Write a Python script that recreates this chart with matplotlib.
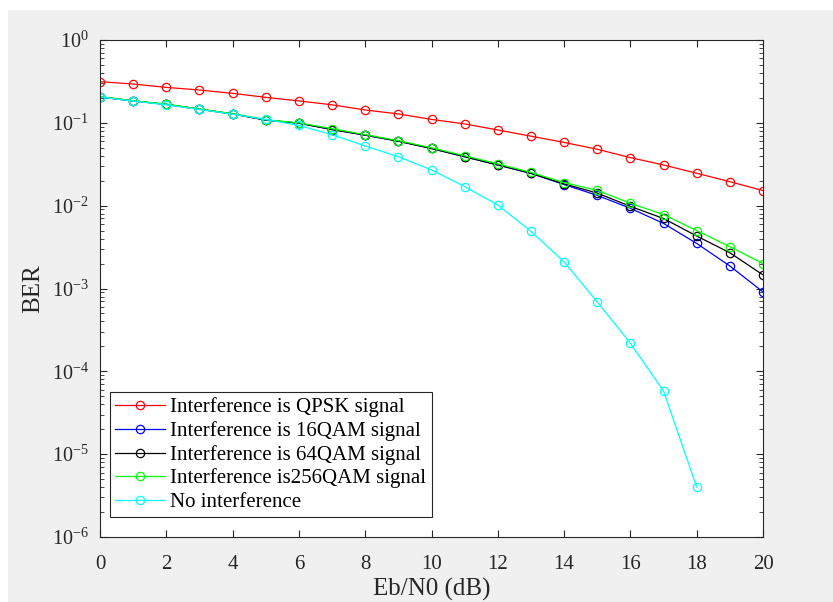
import numpy as np
import matplotlib
matplotlib.use('Agg')
import matplotlib.pyplot as plt
from matplotlib.patches import Rectangle
from matplotlib.ticker import LogLocator, NullFormatter

plt.rcParams['font.family'] = 'Liberation Serif'
plt.rcParams['mathtext.fontset'] = 'custom'
plt.rcParams['mathtext.rm'] = 'Liberation Serif'

# Eb/N0 axis (dB)
ebn0 = np.arange(0, 21)
ebn0_clean = np.arange(0, 19)

ber_qpsk = [0.314, 0.294, 0.268, 0.249, 0.227, 0.203, 0.184, 0.165, 0.143, 0.128,
            0.110, 0.097, 0.082, 0.069, 0.058, 0.048, 0.038, 0.031, 0.0246, 0.0195, 0.0152]
ber_16qam = [0.205, 0.184, 0.167, 0.146, 0.128, 0.108, 0.099, 0.083, 0.071, 0.060,
             0.049, 0.039, 0.031, 0.0245, 0.0180, 0.0133, 0.0093, 0.0061, 0.0035, 0.00187, 0.00091]
ber_64qam = [0.206, 0.184, 0.167, 0.146, 0.128, 0.108, 0.099, 0.083, 0.071, 0.060,
             0.049, 0.039, 0.031, 0.0246, 0.0183, 0.0142, 0.0098, 0.0070, 0.0043, 0.0027, 0.00146]
ber_256qam = [0.207, 0.185, 0.168, 0.147, 0.129, 0.109, 0.100, 0.085, 0.072, 0.061,
              0.050, 0.040, 0.032, 0.0252, 0.0190, 0.0153, 0.0107, 0.0078, 0.0050, 0.0032, 0.0020]
ber_none = [0.205, 0.183, 0.165, 0.145, 0.127, 0.110, 0.093, 0.072, 0.0525, 0.039,
            0.027, 0.017, 0.0102, 0.0049, 0.0021, 0.00069, 0.000218, 5.8e-5, 4.0e-6]

labels = ['Interference is QPSK signal',
          'Interference is 16QAM signal',
          'Interference is 64QAM signal',
          'Interference is256QAM signal',
          'No interference']

fig = plt.figure(figsize=(8.33, 6.02), dpi=100)
fig.patch.set_facecolor('white')
fig.patches.append(Rectangle((8 / 833, 0), 1, 1 - 10 / 602, transform=fig.transFigure,
                             facecolor='#f0f0f0', edgecolor='none', zorder=-10))

ax = fig.add_axes([100 / 833, 1 - 537 / 602, 663 / 833, 497 / 602])
ax.set_facecolor('white')

kw = dict(marker='o', markerfacecolor='none', markersize=6, linewidth=0.9, markeredgewidth=0.9)
ax.semilogy(ebn0, ber_qpsk, color='#ff0000', label=labels[0], **kw)
ax.semilogy(ebn0, ber_16qam, color='#0000ff', label=labels[1], **kw)
ax.semilogy(ebn0, ber_64qam, color='#000000', label=labels[2], **kw)
ax.semilogy(ebn0, ber_256qam, color='#00ff00', label=labels[3], **kw)
ax.semilogy(ebn0_clean, ber_none, color='#00ffff', label=labels[4], **kw)

ax.set_xlim(0, 20)
ax.set_ylim(1e-6, 1)
ax.set_xticks(np.arange(0, 21, 2))
ax.yaxis.set_major_locator(LogLocator(base=10, numticks=10))
ax.yaxis.set_minor_locator(LogLocator(base=10, subs=np.arange(2, 10), numticks=10))
ax.yaxis.set_minor_formatter(NullFormatter())
ax.tick_params(which='both', direction='in', top=True, right=True, colors='#262626',
               labelcolor='#262626')
ax.tick_params(axis='x', which='major', labelsize=15, pad=13)
ax.tick_params(axis='y', which='major', labelsize=14.5, pad=8)
ax.tick_params(which='major', length=5, width=0.8)
ax.tick_params(which='minor', length=3, width=0.6)
for s in ax.spines.values():
    s.set_color('#262626')
    s.set_linewidth(0.8)

ax.set_xlabel('Eb/N0 (dB)', fontsize=18, color='#262626', va='center')
ax.xaxis.set_label_coords(0.5, -(589 - 537) / 497)
ax.set_ylabel('BER', fontsize=18, color='#262626', va='center')
ax.yaxis.set_label_coords(-(100 - 33) / 663, 0.5)

leg = ax.legend(loc='lower left', bbox_to_anchor=(10 / 663, 20 / 497), borderaxespad=0,
                fontsize=15, fancybox=False, framealpha=1, edgecolor='#262626',
                handlelength=2.4, handletextpad=0.25, labelspacing=0.18, borderpad=0.25)
leg.get_frame().set_linewidth(0.8)

fig.savefig('out.png', dpi=100)
